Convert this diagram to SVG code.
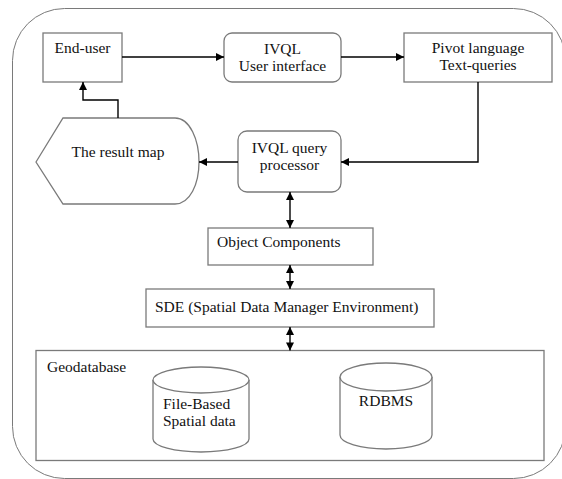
<svg xmlns="http://www.w3.org/2000/svg" width="562" height="479" viewBox="0 0 562 479">
  <defs>
    <marker id="ah" viewBox="0 0 10 10" refX="10" refY="5" markerWidth="9" markerHeight="8" markerUnits="userSpaceOnUse" orient="auto-start-reverse">
      <path d="M0,0 L10,5 L0,10 Z" fill="#000"/>
    </marker>
  </defs>
  <style>
    .box { fill: #fff; stroke: #7a7a7a; stroke-width: 1.3; }
    .outer { fill: none; stroke: #7a7a7a; stroke-width: 1; }
    .t { font-size: 15.5px; fill: #111; }
    .c { text-anchor: middle; }
    .conn { fill: none; stroke: #000; stroke-width: 1.4; }
  </style>
  <rect width="562" height="479" fill="#fff"/>
  <rect id="frame" class="outer" x="12.5" y="8.5" width="553" height="470" rx="52" ry="52"/>

  <g font-family="Liberation Serif, Times New Roman, serif">
  <g id="end-user">
    <rect class="box" x="43" y="33" width="79" height="49"/>
    <text class="t c" x="82.5" y="53">End-user</text>
  </g>
  <g id="ivql-ui">
    <rect class="box" x="224" y="33" width="117" height="49" rx="8"/>
    <text class="t c" x="282.5" y="54">IVQL</text>
    <text class="t c" x="282.5" y="71">User interface</text>
  </g>
  <g id="pivot">
    <rect class="box" x="404" y="33" width="148" height="49"/>
    <text class="t c" x="478" y="52.5">Pivot language</text>
    <text class="t c" x="478" y="69.5">Text-queries</text>
  </g>
  <g id="result-map">
    <path class="box" d="M36,162 L63,118 H175 C190,118 199,140 199,162 C199,184 190,204 175,204 H63 Z"/>
    <text class="t c" x="118" y="157">The result map</text>
  </g>
  <g id="processor">
    <rect class="box" x="238" y="131" width="103" height="61" rx="9"/>
    <text class="t c" x="289.5" y="153">IVQL query</text>
    <text class="t c" x="289.5" y="170">processor</text>
  </g>
  <g id="object-components">
    <rect class="box" x="208" y="228" width="165" height="37"/>
    <text class="t" x="217" y="247">Object Components</text>
  </g>
  <g id="sde">
    <rect class="box" x="146" y="289" width="288" height="38"/>
    <text class="t" x="155" y="312">SDE (Spatial Data Manager Environment)</text>
  </g>
  <g id="geodatabase">
    <rect class="box" x="36" y="350.5" width="508" height="110"/>
    <text class="t" x="47" y="372">Geodatabase</text>
  </g>
  <g id="file-based">
    <path class="box" d="M153,380 A48,13 0 0 1 249,380 V439 A48,13 0 0 1 153,439 Z"/>
    <path class="box" d="M153,380 A48,13 0 0 0 249,380"/>
    <text class="t" x="163" y="409">File-Based</text>
    <text class="t" x="163" y="426">Spatial data</text>
  </g>
  <g id="rdbms">
    <path class="box" d="M340,377 A46,14 0 0 1 432,377 V435 A46,14 0 0 1 340,435 Z"/>
    <path class="box" d="M340,377 A46,14 0 0 0 432,377"/>
    <text class="t c" x="386" y="406">RDBMS</text>
  </g>
  </g>

  <g id="connectors">
    <path class="conn" d="M122,57 H224" marker-end="url(#ah)"/>
    <path class="conn" d="M341,57 H404" marker-end="url(#ah)"/>
    <path class="conn" d="M478,82 V162 H341" marker-end="url(#ah)"/>
    <path class="conn" d="M238,162 H199" marker-end="url(#ah)"/>
    <path class="conn" d="M118,118 V100 H83 V82" marker-end="url(#ah)"/>
    <path class="conn" d="M290,192 V228" marker-start="url(#ah)" marker-end="url(#ah)"/>
    <path class="conn" d="M290,265 V289" marker-start="url(#ah)" marker-end="url(#ah)"/>
    <path class="conn" d="M290,327 V350.5" marker-start="url(#ah)" marker-end="url(#ah)"/>
  </g>
</svg>
